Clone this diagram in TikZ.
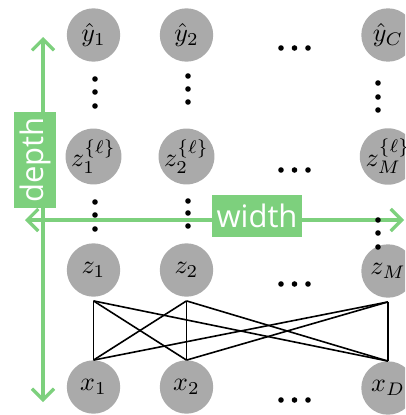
\documentclass[tikz,border=0pt]{standalone}
\usepackage{graphicx}
\usepackage{fontspec}
\setsansfont{Open Sans}
\usetikzlibrary{arrows.meta}
\definecolor{nodegray}{RGB}{170,170,170}
\definecolor{axisgreen}{RGB}{125,208,125}
\newcommand{\unittext}[1]{\scalebox{2.6}{$#1$}}
\tikzset{
  unit/.style={circle, fill=nodegray, minimum size=53.4pt, inner sep=0pt},
  dotmark/.style={fill=black},
  link/.style={line width=1.6pt},
  axisline/.style={axisgreen, line width=3.2pt, {Straight Barb[length=11pt,width=22pt]}-{Straight Barb[length=11pt,width=22pt]}},
  axislabel/.style={fill=axisgreen, text=white, font=\sffamily\fontsize{31}{36}\selectfont, inner xsep=5pt, minimum height=42pt}
}
\begin{document}
\begin{tikzpicture}[x=1pt,y=-1pt]
\useasboundingbox (0,0) rectangle (405,415);
\clip (0,0) rectangle (405,415);
% axes
\coordinate (dtop) at (43,37);
\coordinate (dbot) at (43,402);
\coordinate (wleft) at (25,220);
\coordinate (wright) at (404,220);
\draw[axisline] (dbot) -- (dtop);
\draw[axisline] (wleft) -- (wright);
\node[axislabel, rotate=90] (depthlab) at (35,160) {depth};
\node[axislabel] (widthlab) at (257,216) {width};
% units
\node[unit] (y1) at (93.5,35) {\unittext{\hat{y}_1}};
\node[unit] (y2) at (186.5,35) {\unittext{\hat{y}_2}};
\node[unit] (yC) at (388,35) {\unittext{\hat{y}_C}};
\node[unit] (l1) at (93.5,156.5) {\unittext{z_1^{\{\ell\}}}};
\node[unit] (l2) at (186.5,156.5) {\unittext{z_2^{\{\ell\}}}};
\node[unit] (lM) at (388,156.5) {\unittext{z_M^{\{\ell\}}}};
\node[unit] (z1) at (93.5,270) {\unittext{z_1}};
\node[unit] (z2) at (186.5,270) {\unittext{z_2}};
\node[unit] (zM) at (388,271) {\unittext{z_M}};
\node[unit] (x1) at (93.5,387) {\unittext{x_1}};
\node[unit] (x2) at (186.5,387) {\unittext{x_2}};
\node[unit] (xD) at (388,388) {\unittext{x_D}};
% vertical dots
\foreach \px/\py in {95/79, 95/92, 95/106, 188/76, 188/89, 188/102, 378/83, 378/97, 378/110,
                     95/202, 95/215, 95/229, 188/201, 188/213, 188/226, 378/220, 378/233, 378/247}
  \fill[dotmark] (\px,\py) circle (2.8pt);
% horizontal dots
\foreach \py in {48,170,284,400}
  \foreach \px in {281,294.5,308}
    \fill[dotmark] (\px,\py) circle (2.8pt);
% links
\foreach \z in {z1,z2,zM}
  \foreach \x in {x1,x2,xD}
    \draw[link] ([yshift=-4pt]\z.south) -- (\x.north);
\end{tikzpicture}
\end{document}
